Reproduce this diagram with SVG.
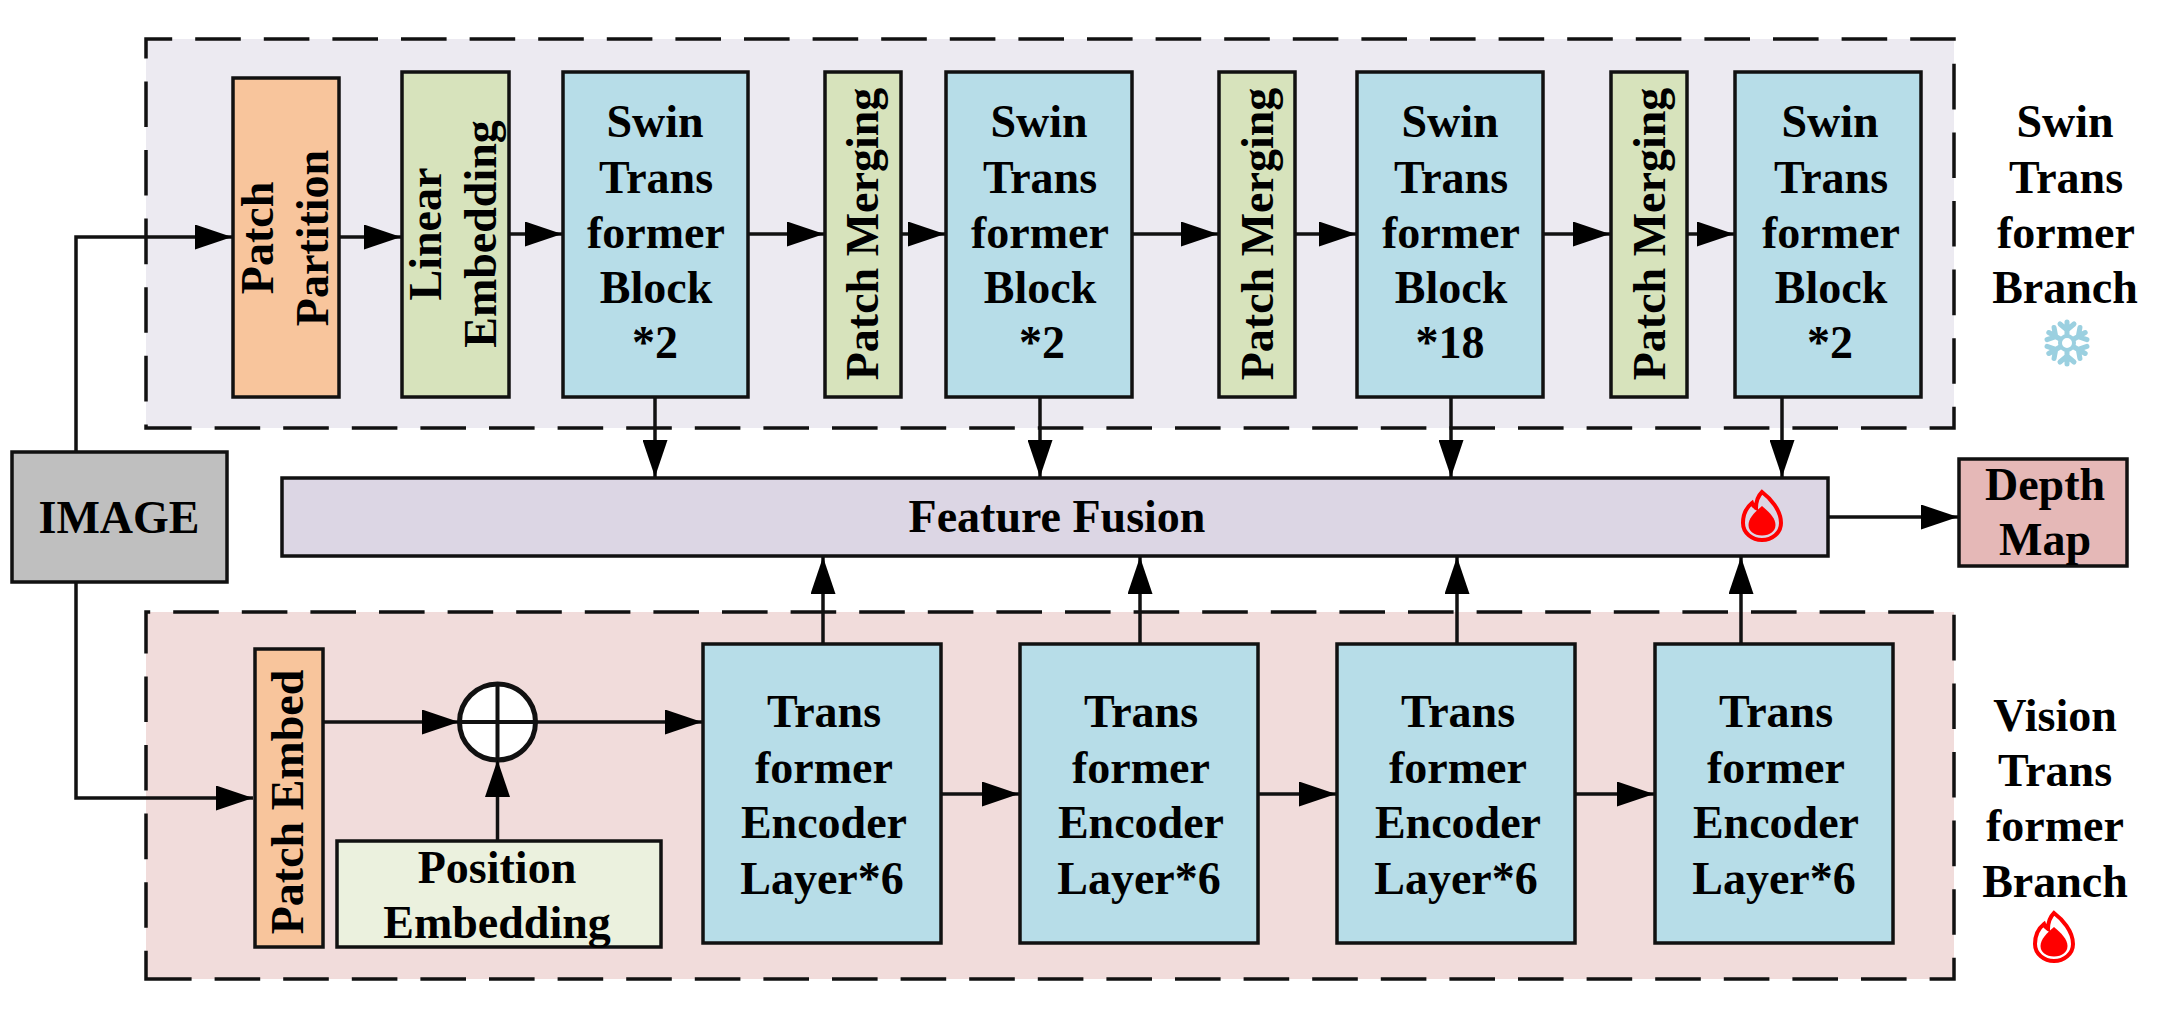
<svg xmlns="http://www.w3.org/2000/svg" xmlns:xlink="http://www.w3.org/1999/xlink" width="2162" height="1016" viewBox="0 0 2162 1016">
<style>
text{font-family:"Liberation Serif","Times New Roman",serif;font-weight:bold;font-size:46px;fill:#000;text-anchor:middle}
.box{stroke:#111;stroke-width:3.5}
.panel{stroke:#111;stroke-width:3.5;stroke-dasharray:45.6 23}
.c{fill:none;stroke:#111;stroke-width:3.5;marker-end:url(#ah)}
.or{fill:#f8c59c}.gr{fill:#d7e3bc}.bl{fill:#b7dde8}
</style>
<defs>
<marker id="ah" markerUnits="userSpaceOnUse" markerWidth="37" markerHeight="25" refX="37" refY="12.5" orient="auto"><path d="M0 0L37 12.5L0 25Z" fill="#000"/></marker>
<g id="flame">
<path d="M0 -24C8 -18 19 -6 19 7C19 17 10 24 0 24C-10 24 -19 17 -19 7C-19 -2 -15 -9 -10 -13C-9 -10 -8 -9 -6 -8C-6 -14 -4 -20 0 -24Z" fill="none" stroke="#f00" stroke-width="4"/>
<path d="M0 -10C7 -4 13.500 2 13.500 9C13.500 15 8 19.500 0 19.500C-8 19.500 -13.500 15 -13.500 9C-13.500 2 -7 -4 0 -10Z" fill="#f00"/>
</g>
<g id="arm" fill="none" stroke="#9bd0e0" stroke-width="5" stroke-linecap="round">
<path d="M0 -8V-21M-7 -19L0 -13L7 -19"/>
</g>
</defs>
<rect width="2162" height="1016" fill="#fff"/>
<g id="panel-swin"><path class="panel" d="M146 428H1954V39H146Z" fill="#eceaf1"/></g>
<g id="panel-vit"><path class="panel" d="M146 979H1954V612H146Z" fill="#f1dcdb"/></g>

<g id="patch-partition"><rect class="box or" x="233" y="78" width="106" height="319"/>
<text transform="translate(273 238) rotate(-90)">Patch</text><text transform="translate(328 238) rotate(-90)">Partition</text></g>
<g id="linear-embedding"><rect class="box gr" x="402" y="72" width="107" height="325"/>
<text transform="translate(441 234) rotate(-90)">Linear</text><text transform="translate(496 234) rotate(-90)">Embedding</text></g>
<g id="swin-1"><rect class="box bl" x="563" y="72" width="185" height="325"/>
<text x="655" y="137">Swin</text><text x="656" y="193">Trans</text><text x="656" y="248">former</text><text x="656" y="303">Block</text><text x="655" y="358">*2</text></g>
<g id="merge-1"><rect class="box gr" x="825" y="72" width="76" height="325"/><text transform="translate(878 234) rotate(-90)">Patch Merging</text></g>
<g id="swin-2"><rect class="box bl" x="946" y="72" width="186" height="325"/>
<text x="1039" y="137">Swin</text><text x="1040" y="193">Trans</text><text x="1040" y="248">former</text><text x="1040" y="303">Block</text><text x="1042" y="358">*2</text></g>
<g id="merge-2"><rect class="box gr" x="1219" y="72" width="76" height="325"/><text transform="translate(1273 234) rotate(-90)">Patch Merging</text></g>
<g id="swin-3"><rect class="box bl" x="1357" y="72" width="186" height="325"/>
<text x="1450" y="137">Swin</text><text x="1451" y="193">Trans</text><text x="1451" y="248">former</text><text x="1451" y="303">Block</text><text x="1450" y="358">*18</text></g>
<g id="merge-3"><rect class="box gr" x="1611" y="72" width="76" height="325"/><text transform="translate(1665 234) rotate(-90)">Patch Merging</text></g>
<g id="swin-4"><rect class="box bl" x="1735" y="72" width="186" height="325"/>
<text x="1830" y="137">Swin</text><text x="1831" y="193">Trans</text><text x="1831" y="248">former</text><text x="1831" y="303">Block</text><text x="1830" y="358">*2</text></g>

<g id="swin-label"><text x="2065" y="137">Swin</text><text x="2066" y="193">Trans</text><text x="2066" y="248">former</text><text x="2065" y="303">Branch</text>
<g transform="translate(2067 343)"><use xlink:href="#arm" href="#arm"/><use xlink:href="#arm" href="#arm" transform="rotate(60)"/><use xlink:href="#arm" href="#arm" transform="rotate(120)"/><use xlink:href="#arm" href="#arm" transform="rotate(180)"/><use xlink:href="#arm" href="#arm" transform="rotate(240)"/><use xlink:href="#arm" href="#arm" transform="rotate(300)"/><circle r="7" fill="#fff" stroke="#9bd0e0" stroke-width="4"/></g></g>

<g id="image"><rect class="box" x="12" y="452" width="215" height="130" fill="#bfbfbf"/><text x="119" y="533">IMAGE</text></g>
<g id="feature-fusion"><rect class="box" x="282" y="478" width="1546" height="78" fill="#dcd6e4"/><text x="1057" y="532">Feature Fusion</text><use xlink:href="#flame" href="#flame" x="1762" y="516"/></g>
<g id="depth-map"><rect class="box" x="1959" y="459" width="168" height="107" fill="#e5b8b7"/><text x="2045" y="500">Depth</text><text x="2045" y="555">Map</text></g>

<g id="patch-embed"><rect class="box or" x="255" y="649" width="68" height="298"/><text transform="translate(303 802) rotate(-90)">Patch Embed</text></g>
<g id="add"><circle cx="497.500" cy="722" r="38" fill="#fff" stroke="#111" stroke-width="5"/><path d="M459.500 722H535.500M497.500 684V760" stroke="#111" stroke-width="4" fill="none"/></g>
<g id="position-embedding"><rect class="box" x="337" y="841" width="324" height="106" fill="#ebf1de"/><text x="497" y="883">Position</text><text x="497" y="938">Embedding</text></g>
<g id="trans-1"><rect class="box bl" x="703" y="644" width="238" height="299"/><text x="824" y="727">Trans</text><text x="824" y="783">former</text><text x="824" y="838">Encoder</text><text x="822" y="894">Layer*6</text></g>
<g id="trans-2"><rect class="box bl" x="1020" y="644" width="238" height="299"/><text x="1141" y="727">Trans</text><text x="1141" y="783">former</text><text x="1141" y="838">Encoder</text><text x="1139" y="894">Layer*6</text></g>
<g id="trans-3"><rect class="box bl" x="1337" y="644" width="238" height="299"/><text x="1458" y="727">Trans</text><text x="1458" y="783">former</text><text x="1458" y="838">Encoder</text><text x="1456" y="894">Layer*6</text></g>
<g id="trans-4"><rect class="box bl" x="1655" y="644" width="238" height="299"/><text x="1776" y="727">Trans</text><text x="1776" y="783">former</text><text x="1776" y="838">Encoder</text><text x="1774" y="894">Layer*6</text></g>
<g id="vit-label"><text x="2055" y="731">Vision</text><text x="2055" y="786">Trans</text><text x="2055" y="841">former</text><text x="2055" y="897">Branch</text><use xlink:href="#flame" href="#flame" x="2054" y="937"/></g>

<g id="connectors">
<path class="c" d="M76 452V237H232"/>
<path class="c" d="M76 582V798H253"/>
<path class="c" d="M339 237H401"/>
<path class="c" d="M509 234H562"/>
<path class="c" d="M748 234H824"/>
<path class="c" d="M901 234H945"/>
<path class="c" d="M1132 234H1218"/>
<path class="c" d="M1295 234H1356"/>
<path class="c" d="M1543 234H1610"/>
<path class="c" d="M1687 234H1734"/>
<path class="c" d="M655 397V477"/>
<path class="c" d="M1040 397V477"/>
<path class="c" d="M1451 397V477"/>
<path class="c" d="M1782 397V477"/>
<path class="c" d="M823 644V557"/>
<path class="c" d="M1140 644V557"/>
<path class="c" d="M1457 644V557"/>
<path class="c" d="M1741 644V557"/>
<path class="c" d="M1828 517H1958"/>
<path class="c" d="M323 722H459"/>
<path class="c" d="M535 722H702"/>
<path class="c" d="M497.500 841V760"/>
<path class="c" d="M941 794H1019"/>
<path class="c" d="M1258 794H1336"/>
<path class="c" d="M1575 794H1654"/>
</g>
</svg>
